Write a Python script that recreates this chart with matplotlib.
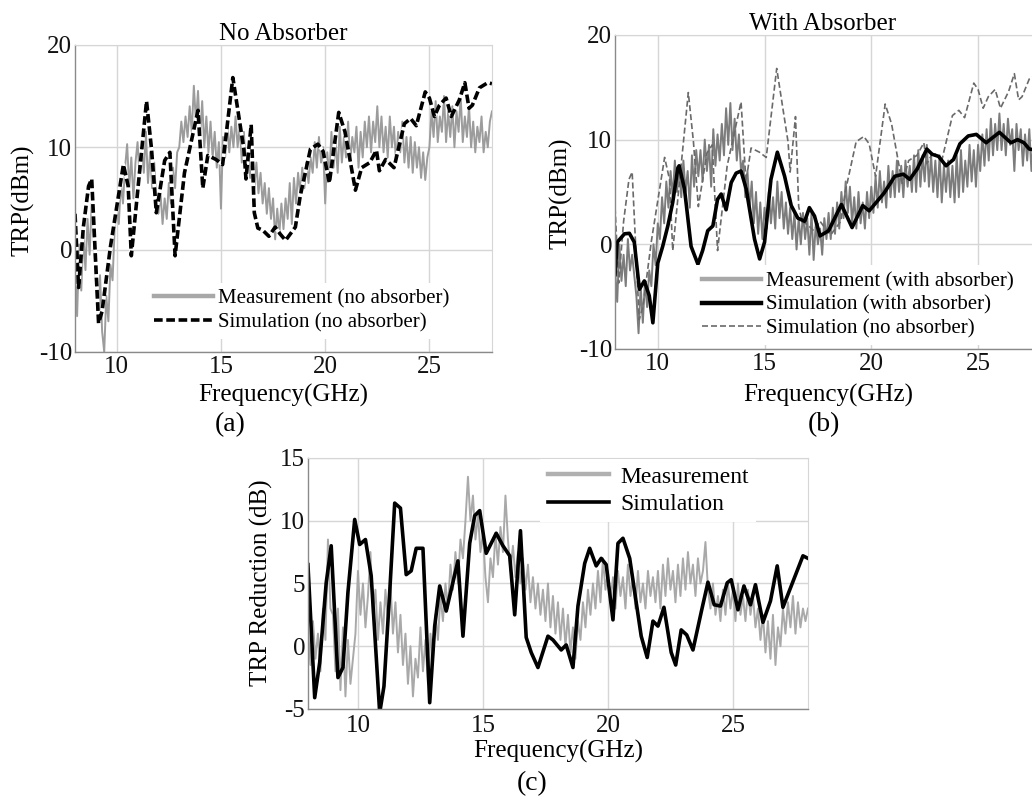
import numpy as np
import matplotlib
matplotlib.use("Agg")
import matplotlib.pyplot as plt
from matplotlib.lines import Line2D

plt.rcParams['font.family'] = ['Liberation Serif', 'DejaVu Serif']
plt.rcParams['axes.unicode_minus'] = False

# measured traces, sampled every 0.1 GHz from 8 to 28 GHz
freq_meas = np.linspace(8, 28, 201)

meas_no_abs = [
    -1.5, -6.5, 0.5, -4.0, 1.5, -2.0, 3.0, -0.5, 4.5, 1.0,
    -3.0, -6.5, -2.5, -8.0, -10.0, -4.5, -7.0, -1.5, -3.0, 2.0,
    4.0, 2.5, 6.5, 4.5, 8.0, 10.3, 6.0, 9.0, 5.0, 8.5,
    10.5, 7.0, 10.0, 7.5, 11.5, 6.5, 9.5, 6.0, 8.5, 4.5,
    3.5, 5.5, 2.5, 5.0, 3.0, 6.5, 4.5, 8.0, 6.0, 9.5,
    10.0, 12.5, 10.5, 13.0, 11.0, 14.0, 11.5, 16.0, 12.5, 15.5,
    11.0, 14.5, 10.0, 13.0, 9.5, 12.5, 9.0, 11.5, 8.0, 10.5,
    4.0, 11.0, 9.0, 12.5, 9.5, 12.0, 10.0, 13.0, 10.0, 12.0,
    8.5, 11.5, 7.5, 10.0, 7.0, 9.0, 6.0, 8.5, 5.5, 7.5,
    4.5, 6.5, 3.5, 6.0, 3.0, 5.0, 1.0, 4.0, 1.5, 4.5,
    2.0, 5.0, 3.0, 6.5, 2.5, 7.0, 4.5, 7.5, 5.5, 8.0,
    6.0, 8.5, 6.5, 9.0, 7.5, 10.5, 8.0, 11.0, 8.5, 10.0,
    4.5, 9.5, 7.0, 11.5, 8.0, 10.5, 7.5, 12.0, 8.5, 11.0,
    9.0, 12.5, 8.5, 11.0, 9.5, 12.0, 8.0, 11.5, 9.0, 12.5,
    10.0, 13.0, 9.5, 12.5, 10.5, 14.0, 10.0, 13.0, 9.5, 12.0,
    9.0, 13.0, 10.0, 12.0, 8.5, 11.5, 9.5, 12.5, 8.5, 11.0,
    8.0, 11.0, 7.5, 10.5, 8.0, 10.0, 7.0, 9.5, 6.8, 9.0,
    10.0, 13.5, 11.0, 14.5, 10.5, 13.0, 11.5, 15.0, 10.5, 13.5,
    11.0, 14.0, 10.0, 13.5, 11.5, 15.0, 10.5, 13.0, 11.0, 14.0,
    10.0, 12.5, 9.5, 12.0, 10.5, 13.0, 9.5, 11.5, 10.0, 12.5,
    13.5]

meas_with_abs = [
    -2.5, -5.5, 0.0, -3.5, -1.0, -4.0, 0.5, -2.5, -1.0, -3.0,
    -5.0, -8.5, -4.0, -7.5, -3.5, -6.0, -2.5, -4.0, 0.0, -2.0,
    2.0, 0.5, 4.5, 2.0, 6.0, 3.5, 7.0, 4.5, 8.0, 5.0,
    7.5, 4.5, 8.0, 5.0, 7.0, 3.5, 8.5, 5.5, 9.0, 6.5,
    9.0, 6.0, 10.0, 7.0, 9.5, 5.5, 11.0, 7.5, 10.5, 8.0,
    11.5, 8.5, 13.0, 9.5, 13.5, 9.0, 12.0, 8.0, 10.5, 7.0,
    8.0, 4.5, 7.0, 3.5, 6.0, 2.0, 5.0, 1.0, 4.0, 0.5,
    3.5, 1.5, 5.0, 2.0, 4.5, 1.5, 6.0, 2.5, 5.0, 1.5,
    4.0, 1.0, 3.5, 0.5, 3.0, -0.5, 2.5, 0.0, 3.0, 0.5,
    2.5, -1.0, 3.0, -1.5, 2.0, 0.0, 1.5, -1.0, 2.5, 0.5,
    3.0, 0.5, 3.5, 1.0, 4.0, 1.5, 5.0, 2.5, 6.0, 3.0,
    5.5, 2.0, 4.5, 1.5, 5.0, 2.0, 4.0, 1.5, 5.0, 2.5,
    5.5, 3.0, 6.5, 3.5, 7.0, 4.0, 6.0, 3.5, 7.5, 4.5,
    7.0, 4.5, 8.0, 5.0, 7.5, 4.5, 8.0, 5.5, 7.5, 5.0,
    8.5, 5.0, 9.0, 5.5, 8.5, 6.0, 9.5, 5.5, 8.5, 5.0,
    8.0, 4.5, 8.5, 4.0, 7.5, 5.0, 8.0, 4.5, 7.5, 4.0,
    8.5, 4.5, 9.0, 5.0, 8.0, 5.5, 9.5, 6.0, 9.0, 5.5,
    9.5, 7.0, 10.5, 7.5, 11.0, 8.0, 12.0, 8.5, 11.5, 9.0,
    12.5, 9.0, 11.5, 8.5, 12.0, 9.5, 11.0, 7.0, 11.5, 9.0,
    11.0, 7.5, 10.5, 8.0, 11.0, 7.0, 10.0, 7.5, 9.5, 7.0,
    9.0]

meas_reduction = [
    1.5, -1.5, 2.0, -1.0, 1.0, -2.0, 3.0, 0.5, 8.5, 3.0,
    2.5, -2.0, 3.0, -3.5, 1.5, -4.0, 0.5, -3.0, -1.0, 1.0,
    6.0, 2.5, 5.0, 1.5, 4.0, 7.5, 2.5, 4.5, 0.5, 3.5,
    1.0, 4.5, 2.0, 5.0, 1.0, 3.5, -0.5, 2.5, -1.5, 1.0,
    -3.0, 0.0, -4.0, -1.0, -2.5, 1.5, -2.0, 0.5, -3.0, 1.0,
    -1.0, 2.5, 0.5, 4.0, 2.0, 5.0, 3.0, 6.5, 4.5, 7.5,
    5.0, 8.5, 7.0, 10.0, 13.5, 10.0, 12.0, 8.5, 10.5, 7.5,
    9.0, 5.5, 3.5, 7.0, 5.5, 9.0, 6.5, 9.5, 7.5, 12.0,
    8.5, 6.0, 8.0, 5.5, 7.5, 5.0, 7.0, 4.5, 6.5, 3.5,
    5.5, 3.0, 5.0, 2.5, 4.5, 2.0, 5.0, 1.5, 4.0, 1.0,
    3.5, 0.5, 3.0, 0.0, 2.5, -0.5, 1.5, -1.0, 2.0, 0.5,
    3.5, 1.5, 4.5, 2.5, 5.0, 3.0, 6.0, 3.5, 7.0, 4.5,
    6.0, 3.5, 5.5, 3.0, 6.0, 4.0, 5.5, 3.0, 6.5, 4.0,
    5.5, 3.0, 6.0, 3.5, 5.0, 3.0, 6.0, 4.0, 5.5, 3.5,
    6.0, 3.0, 6.5, 4.0, 7.0, 4.5, 6.0, 3.5, 6.5, 4.0,
    7.0, 4.5, 7.5, 5.0, 6.5, 4.0, 7.0, 5.0, 6.0, 8.3,
    4.5, 3.0, 5.0, 2.5, 4.0, 2.0, 4.5, 2.5, 5.0, 3.0,
    4.5, 2.0, 5.0, 2.5, 4.0, 2.0, 4.5, 2.5, 4.0, 1.5,
    3.0, 0.5, 2.5, -0.5, 2.0, -1.0, 2.5, -1.5, 1.5, 0.0,
    3.0, 1.0, 3.5, 1.5, 4.0, 1.0, 3.5, 1.5, 3.0, 2.0,
    3.0]

# simulated traces
freq_sim_no = [8.0, 8.17, 8.4, 8.65, 8.8, 9.13, 9.3, 9.7, 10.32, 10.55, 10.7, 11.43, 11.67,
               11.9, 12.3, 12.55, 12.8, 13.25, 13.9, 14.13, 14.37, 14.76, 15.08, 15.57, 16.1,
               16.2, 16.45, 16.6, 16.77, 17.0, 17.3, 17.6, 17.85, 18.1, 18.57, 18.8, 19.29,
               19.65, 19.9, 20.2, 20.65, 20.95, 21.45, 21.75, 22.14, 22.46, 22.6, 22.9, 23.3,
               23.8, 24.1, 24.37, 24.8, 25.0, 25.24, 25.48, 25.8, 26.05, 26.43, 26.7, 26.9,
               27.06, 27.4, 27.8, 28.0]
sim_no_abs = [3.5, -3.7, 2.2, 6.2, 6.9, -7.2, -6.0, 0.3, 8.3, 6.2, -0.6, 14.5, 9.8,
              3.6, 8.7, 9.5, -0.6, 7.5, 13.6, 6.0, 9.2, 8.8, 8.3, 16.8, 9.8,
              6.9, 12.2, 3.6, 2.1, 1.9, 1.3, 2.2, 1.5, 0.9, 2.2, 5.2, 9.8,
              10.3, 9.6, 6.5, 13.4, 11.5, 5.8, 8.0, 8.5, 9.7, 7.7, 8.8, 8.0,
              12.3, 12.8, 12.1, 15.4, 14.8, 13.0, 14.1, 14.8, 13.0, 14.6, 16.3, 13.8,
              14.1, 15.8, 16.3, 16.2]

freq_sim_with = [8.0, 8.1, 8.44, 8.67, 8.9, 9.14, 9.37, 9.6, 9.77, 10.0, 10.23, 10.47, 10.7,
                 10.94, 11.0, 11.25, 11.56, 11.88, 12.1, 12.34, 12.58, 12.8, 12.97, 13.2,
                 13.44, 13.67, 13.9, 14.14, 14.53, 14.77, 15.0, 15.3, 15.6, 15.94, 16.25,
                 16.56, 16.88, 17.1, 17.34, 17.6, 18.0, 18.6, 19.1, 19.6, 19.9, 20.23, 20.6,
                 21.1, 21.5, 21.8, 22.15, 22.6, 22.85, 23.15, 23.5, 23.85, 24.15, 24.54,
                 24.92, 25.38, 26.0, 26.54, 26.85, 27.15, 27.4, 27.7, 28.0]
sim_with_abs = [-2.9, 0.2, 1.0, 1.05, 0.2, -4.3, -3.5, -4.9, -7.5, -1.8, -0.2, 1.75, 4.0,
                7.3, 7.5, 5.3, -0.2, -1.9, -0.6, 1.3, 1.75, 4.3, 4.8, 3.3,
                5.9, 6.8, 7.0, 5.3, 0.5, -1.4, 0.2, 6.2, 8.8, 6.5, 3.7,
                2.5, 2.2, 3.5, 2.7, 0.8, 1.3, 3.8, 1.6, 3.7, 3.2, 4.0, 4.9,
                6.5, 6.7, 6.2, 7.2, 9.1, 8.6, 8.4, 7.5, 8.1, 9.6, 10.35,
                10.5, 9.7, 10.7, 9.7, 10.0, 9.7, 9.1, 9.0, 9.3]

freq_sim_red = [8.0, 8.27, 8.47, 8.73, 8.93, 9.2, 9.4, 9.6, 9.87, 10.07, 10.3, 10.53, 10.87,
                11.04, 11.27, 11.47, 11.7, 11.93, 12.13, 12.33, 12.6, 12.87, 13.07, 13.27,
                13.53, 14.0, 14.2, 14.47, 14.67, 14.87, 15.13, 15.53, 15.8, 16.07, 16.27,
                16.5, 16.73, 16.93, 17.2, 17.6, 17.8, 18.13, 18.33, 18.6, 18.8, 19.07, 19.27,
                19.53, 19.73, 19.93, 20.2, 20.4, 20.6, 20.87, 21.33, 21.57, 21.8, 22.0, 22.24,
                22.53, 22.71, 22.93, 23.15, 23.4, 23.74, 24.0, 24.25, 24.5, 24.77, 24.93,
                25.2, 25.44, 25.7, 25.9, 26.2, 26.5, 26.77, 27.0, 27.8, 28.0]
sim_reduction = [6.5, -4.1, -1.3, 5.05, 8.0, -2.5, -1.7, 4.3, 10.1, 8.1, 8.5, 5.6, -5.3,
                 -3.2, 4.3, 11.4, 11.0, 5.7, 6.0, 7.8, 7.8, -4.5, 1.6, 4.8,
                 2.8, 6.8, 0.8, 8.2, 10.4, 10.8, 7.4, 9.0, 8.0, 7.2, 2.5,
                 9.2, 0.7, -0.5, -1.7, 0.8, 0.5, -0.3, 0.1, -1.7, 3.2, 6.6, 7.8,
                 6.4, 7.0, 6.5, 2.1, 8.2, 8.6, 7.0, 0.8, -0.9, 2.0, 1.6, 3.1,
                 -0.5, -1.5, 1.3, 0.9, -0.3, 2.8, 5.1, 3.3, 3.2, 5.05, 5.3,
                 2.9, 4.8, 3.3, 4.9, 1.9, 3.6, 6.4, 3.1, 7.2, 7.0]

GRID = '#d6d6d6'
SPINE = '#8a8a8a'


def style_axes(ax, yticks, tick_pad):
    ax.set_xlim(8, 28)
    ax.set_ylim(yticks[0], yticks[-1])
    ax.set_xticks([10, 15, 20, 25])
    ax.set_yticks(yticks)
    ax.grid(True, color=GRID, lw=1.0)
    ax.set_axisbelow(True)
    for side in ['top', 'right']:
        ax.spines[side].set_color(GRID)
    for side in ['left', 'bottom']:
        ax.spines[side].set_color(SPINE)
        ax.spines[side].set_linewidth(1.0)
    ax.tick_params(length=0, labelsize=18, colors='#111111')
    ax.tick_params(axis='x', pad=tick_pad)
    ax.tick_params(axis='y', pad=2)


fig = plt.figure(figsize=(10.32, 8.0), dpi=100)

# (a) no absorber
ax1 = fig.add_axes([0.0727, 0.56, 0.404, 0.384])
ax1.plot(freq_meas, meas_no_abs, color='#9c9c9c', lw=1.4)
ax1.plot(freq_sim_no, sim_no_abs, color='black', lw=2.6, ls=(0, (2.4, 1.0)), gapcolor='white')
style_axes(ax1, [-10, 0, 10, 20], 3)
ax1.set_title('No Absorber', fontsize=18, pad=2)
ax1.set_xlabel('Frequency(GHz)', fontsize=18, va='center')
ax1.xaxis.set_label_coords(0.5, -0.14)
ax1.set_ylabel('TRP(dBm)', fontsize=18, va='center')
ax1.yaxis.set_label_coords(-0.125, 0.495)
h1 = [Line2D([], [], color='#a8a8a8', lw=3.2),
      Line2D([], [], color='black', lw=2.6, ls=(0, (2.4, 1.0)))]
ax1.legend(h1, ['Measurement (no absorber)', 'Simulation (no absorber)'],
           loc='center left', bbox_to_anchor=(0.175, 0.134), fontsize=15,
           handlelength=2.8, handletextpad=0.25, labelspacing=0.2, borderpad=0.3,
           borderaxespad=0, frameon=True, facecolor='white', edgecolor='none',
           framealpha=1, fancybox=False)

# (b) with absorber
ax2 = fig.add_axes([0.596, 0.5638, 0.4138, 0.3925])
ax2.plot(freq_meas, meas_with_abs, color='#7c7c7c', lw=1.4)
ax2.plot(freq_sim_no, sim_no_abs, color='#6a6a6a', lw=1.2, ls=(0, (3.6, 1.8)))
ax2.plot(freq_sim_with, sim_with_abs, color='black', lw=2.6)
style_axes(ax2, [-10, 0, 10, 20], 3)
ax2.set_title('With Absorber', fontsize=18, pad=2, x=0.487)
ax2.set_xlabel('Frequency(GHz)', fontsize=18, va='center')
ax2.xaxis.set_label_coords(0.5, -0.1465)
ax2.set_ylabel('TRP(dBm)', fontsize=18, va='center')
ax2.yaxis.set_label_coords(-0.126, 0.497)
h2 = [Line2D([], [], color='#a8a8a8', lw=3.2),
      Line2D([], [], color='black', lw=3.2),
      Line2D([], [], color='#6a6a6a', lw=1.2, ls=(0, (3.6, 1.8)))]
ax2.legend(h2, ['Measurement (with absorber)', 'Simulation (with absorber)',
                'Simulation (no absorber)'],
           loc='center left', bbox_to_anchor=(0.19, 0.14), fontsize=15,
           handlelength=2.8, handletextpad=0.25, labelspacing=0.2, borderpad=0.3,
           borderaxespad=0, frameon=True, facecolor='white', edgecolor='none',
           framealpha=1, fancybox=False)

# (c) TRP reduction
ax3 = fig.add_axes([0.2984, 0.1138, 0.4845, 0.3138])
ax3.plot(freq_meas, meas_reduction, color='#a9a9a9', lw=1.4)
ax3.plot(freq_sim_red, sim_reduction, color='black', lw=2.6)
style_axes(ax3, [-5, 0, 5, 10, 15], 4.5)
ax3.set_xlabel('Frequency(GHz)', fontsize=18, va='center')
ax3.xaxis.set_label_coords(0.5, -0.171)
ax3.set_ylabel('TRP Reduction (dB)', fontsize=18, va='center')
ax3.yaxis.set_label_coords(-0.092, 0.502)
h3 = [Line2D([], [], color='#b0b0b0', lw=3.2),
      Line2D([], [], color='black', lw=2.6)]
ax3.legend(h3, ['Measurement', 'Simulation'],
           loc='center left', bbox_to_anchor=(0.465, 0.87), fontsize=17,
           handlelength=2.6, handletextpad=0.5, labelspacing=0.25, borderpad=0.3,
           borderaxespad=0, frameon=True, facecolor='white', edgecolor='none',
           framealpha=1, fancybox=False)

fig.text(230 / 1032, 1 - 425 / 800, '(a)', fontsize=20, ha='center', va='center')
fig.text(824 / 1032, 1 - 425 / 800, '(b)', fontsize=20, ha='center', va='center')
fig.text(532 / 1032, 1 - 784 / 800, '(c)', fontsize=20, ha='center', va='center')

fig.savefig('out.png', dpi=100)
